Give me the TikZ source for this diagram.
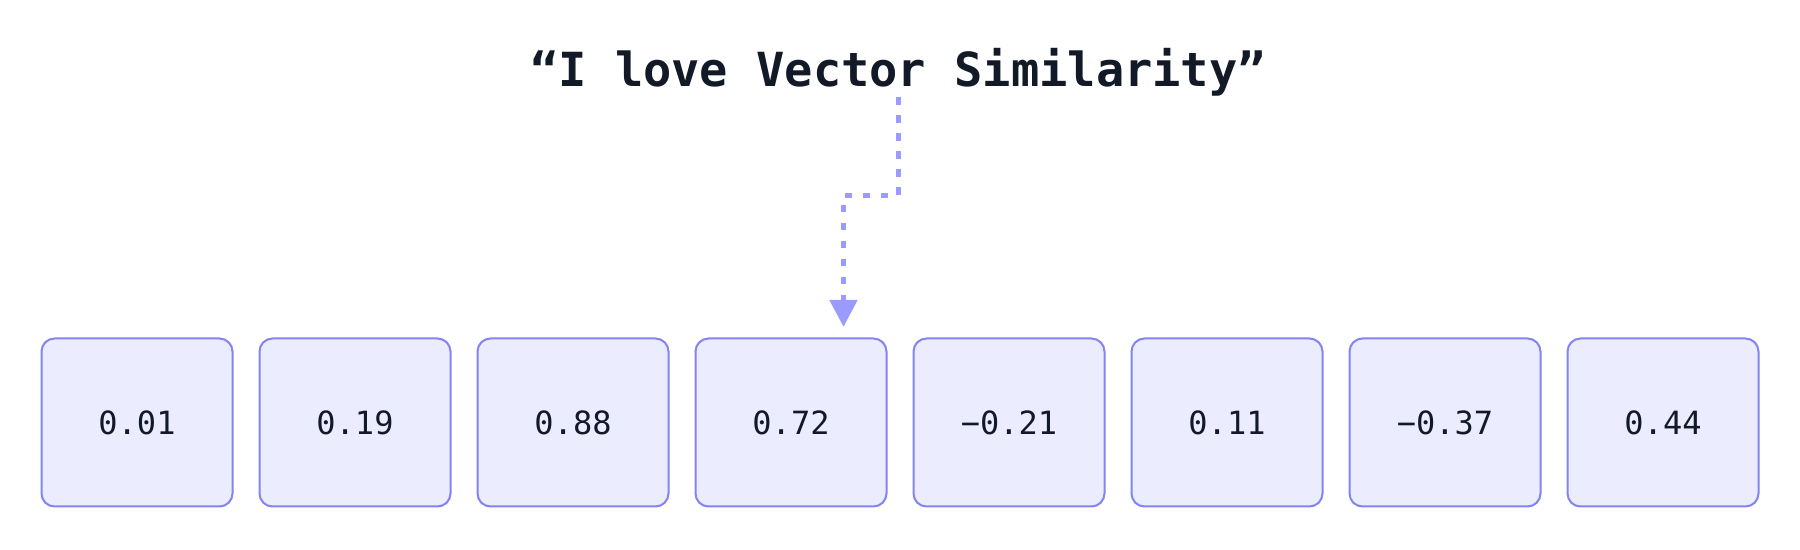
\documentclass[tikz,border=0pt]{standalone}
\usepackage{fontspec}
\setmonofont{DejaVu Sans Mono}
\usetikzlibrary{arrows.meta}
\definecolor{cellfill}{HTML}{ECECFF}
\definecolor{celldraw}{HTML}{8383F2}
\definecolor{flowcol}{HTML}{9A9AFF}
\definecolor{ink}{HTML}{131A27}
\begin{document}
\begin{tikzpicture}[x=0.5pt, y=-0.5pt,
  cell/.style={draw=celldraw, fill=cellfill, line width=1pt, rounded corners=6.5pt,
    minimum width=95.5pt, minimum height=84pt, inner sep=0pt,
    font=\ttfamily\fontsize{16}{16}\selectfont, text=ink}]
\useasboundingbox (0,0) rectangle (1800,550);
\node[font=\ttfamily\bfseries\fontsize{23.5}{23.5}\selectfont, text=ink, anchor=base, inner sep=0pt] (title) at (898, 87) {“I love Vector Similarity”};
\node[cell] (v1) at (137+218*0, 422.5) {0.01};
\node[cell] (v2) at (137+218*1, 422.5) {0.19};
\node[cell] (v3) at (137+218*2, 422.5) {0.88};
\node[cell] (v4) at (137+218*3, 422.5) {0.72};
\node[cell] (v5) at (137+218*4, 422.5) {−0.21};
\node[cell] (v6) at (137+218*5, 422.5) {0.11};
\node[cell] (v7) at (137+218*6, 422.5) {−0.37};
\node[cell] (v8) at (137+218*7, 422.5) {0.44};
\coordinate (tip) at ([xshift=26.25pt, yshift=5.3pt]v4.north);
\draw[-{Triangle[length=13.5pt, width=13.5pt]}, color=flowcol, line width=2.5pt, dash pattern=on 3.75pt off 5.25pt] (title.south) -- ++(0,98) -| (tip);
\end{tikzpicture}
\end{document}
